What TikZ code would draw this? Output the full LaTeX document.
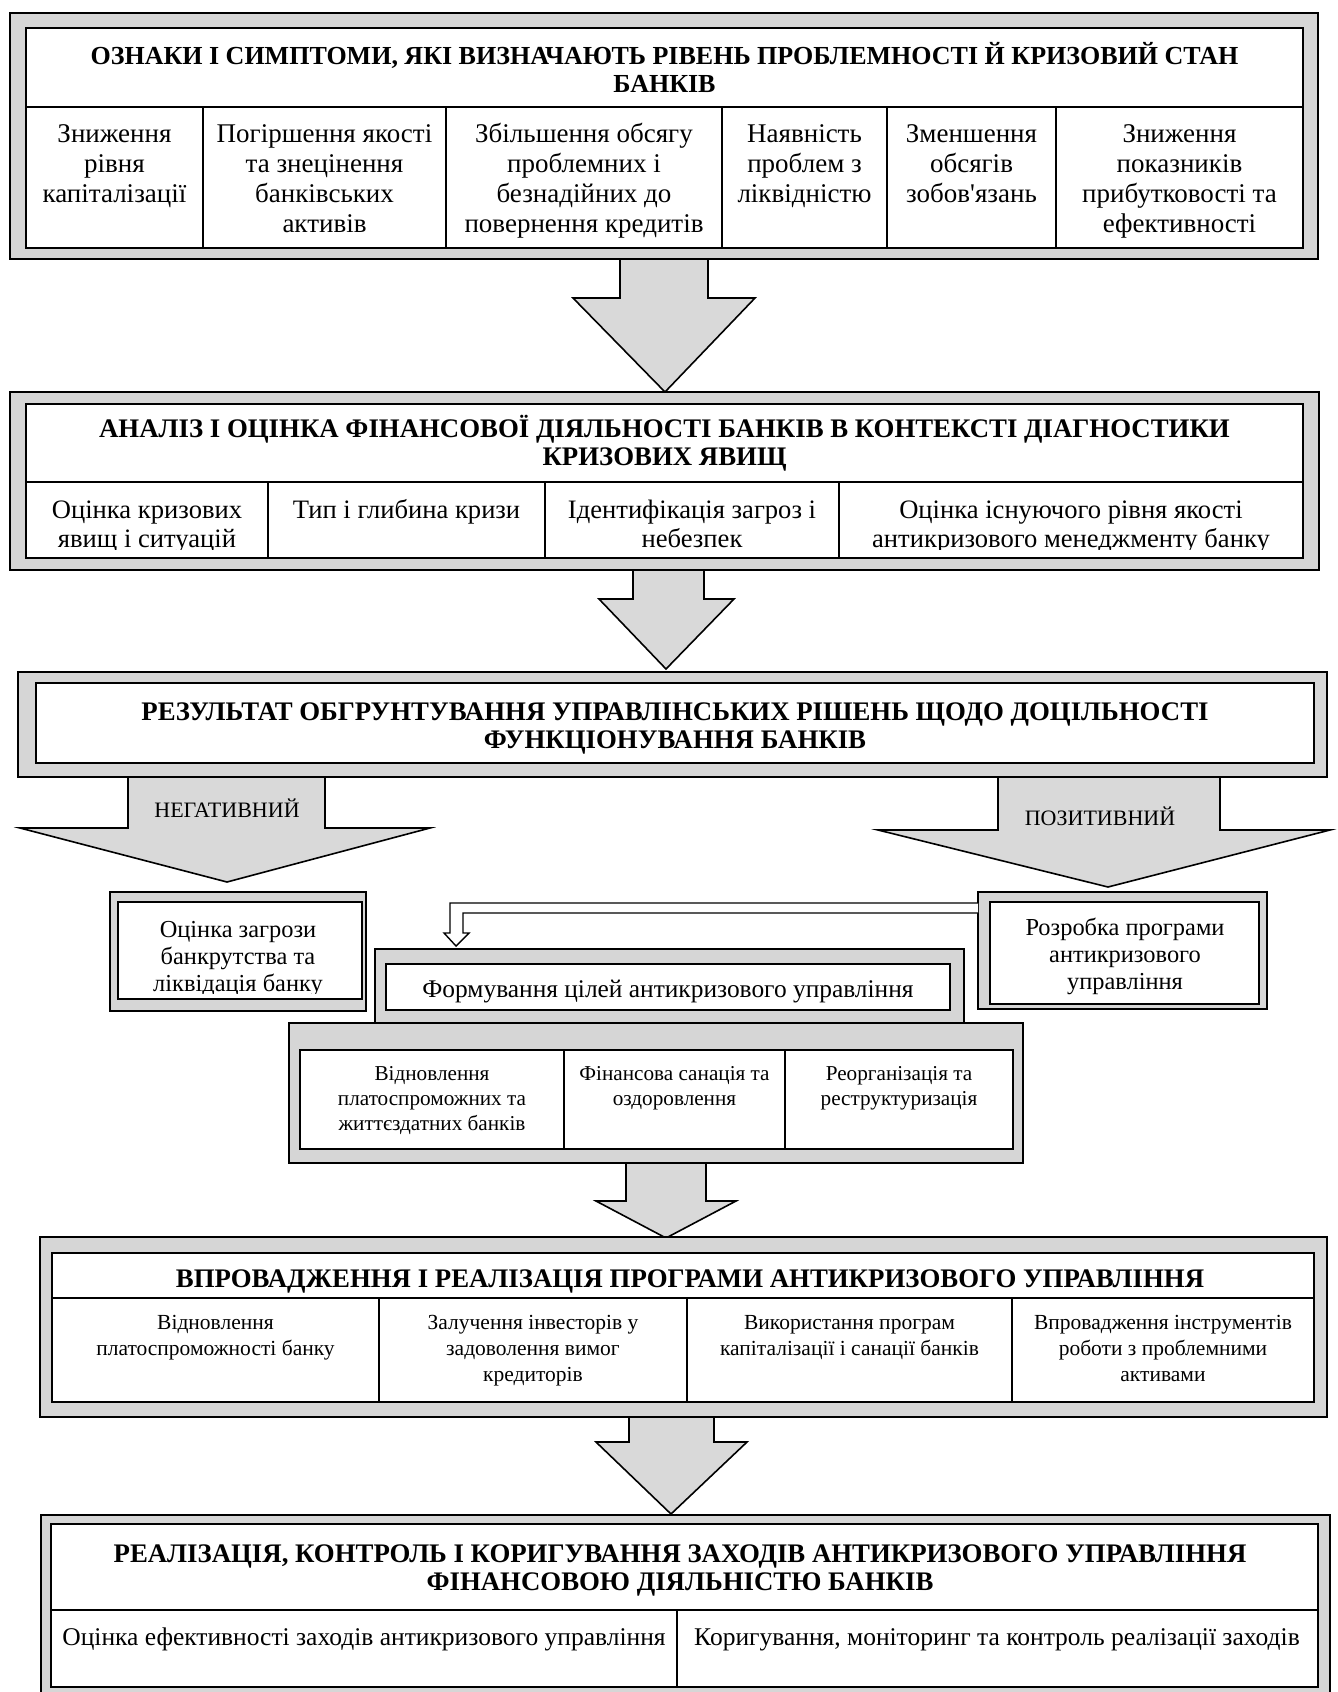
\documentclass[tikz,border=0pt]{standalone}
\usepackage{fontspec}
\setmainfont{Liberation Serif}[Ligatures=TeXOff]
\definecolor{framegray}{HTML}{D6D6D6}
\definecolor{arrowgray}{HTML}{D9D9D9}
\newcommand\gframe[8]{%
  \draw[outerframe] (#1,#2) rectangle (#3,#4);
  \draw[innerframe] (#5,#6) rectangle (#7,#8);}
\begin{document}
\begin{tikzpicture}[x=1pt,y=-1pt,
  outerframe/.style={draw=black, line width=2.4pt, fill=framegray},
  innerframe/.style={draw=black, line width=1.4pt, fill=white},
  divline/.style={draw=black, line width=1.1pt},
  arrowfill/.style={fill=arrowgray},
  arrowline/.style={draw=black, line width=1.6pt, line join=miter},
  hollowarrow/.style={draw=black, line width=1.4pt, fill=white, line join=miter},
  txtbase/.style={align=center, inner sep=0pt, anchor=base},
  hdrA/.style={txtbase, font=\fontsize{26}{28.5}\selectfont\bfseries},
  hdr/.style={txtbase, font=\fontsize{26.8}{28.5}\selectfont\bfseries},
  bigtxt/.style={txtbase, font=\fontsize{27}{30}\selectfont},
  bigtxtb/.style={txtbase, font=\fontsize{26.6}{29}\selectfont},
  midtxt/.style={txtbase, font=\fontsize{24.4}{27}\selectfont},
  lbltxt/.style={txtbase, font=\fontsize{22}{24}\selectfont},
  smalltxt/.style={txtbase, font=\fontsize{21.2}{25}\selectfont},
  celltxt/.style={txtbase, font=\fontsize{21.5}{26}\selectfont},
  goaltxt/.style={txtbase, font=\fontsize{25.4}{28}\selectfont},
  lowtxt/.style={txtbase, font=\fontsize{25.5}{28}\selectfont},
]
\useasboundingbox[fill=white] (0,0) rectangle (1338,1692);

% ---------- block arrows (drawn first, boxes cover their ends)
\fill[arrowfill] (620,259) -- (620,298) -- (573,298) -- (665,392) -- (755,298) -- (708,298) -- (708,259) -- cycle;
\draw[arrowline] (620,259) -- (620,298) -- (573,298) -- (665,392) -- (755,298) -- (708,298) -- (708,259);

\fill[arrowfill] (633,570) -- (633,599) -- (599,599) -- (666,669) -- (734,599) -- (704,599) -- (704,570) -- cycle;
\draw[arrowline] (633,570) -- (633,599) -- (599,599) -- (666,669) -- (734,599) -- (704,599) -- (704,570);

\fill[arrowfill] (128,777) -- (128,828) -- (20,828) -- (227,882) -- (430,828) -- (325,828) -- (325,777) -- cycle;
\draw[arrowline] (128,777) -- (128,828) -- (20,828) -- (227,882) -- (430,828) -- (325,828) -- (325,777);

\fill[arrowfill] (998,777) -- (998,830) -- (878,830) -- (1108,887) -- (1330,830) -- (1220,830) -- (1220,777) -- cycle;
\draw[arrowline] (998,777) -- (998,830) -- (878,830) -- (1108,887) -- (1330,830) -- (1220,830) -- (1220,777);

\fill[arrowfill] (626,1163) -- (626,1201) -- (596,1201) -- (666,1238) -- (736,1201) -- (706,1201) -- (706,1163) -- cycle;
\draw[arrowline] (626,1163) -- (626,1201) -- (596,1201) -- (666,1238) -- (736,1201) -- (706,1201) -- (706,1163);

\fill[arrowfill] (629,1417) -- (629,1442) -- (596,1442) -- (671,1514) -- (747,1442) -- (714,1442) -- (714,1417) -- cycle;
\draw[arrowline] (629,1417) -- (629,1442) -- (596,1442) -- (671,1514) -- (747,1442) -- (714,1442) -- (714,1417);

% ---------- box 1
\gframe{10}{13}{1318}{259}{26}{28}{1303}{248}
\draw[divline] (26,107) -- (1303,107);
\foreach \x in {203,446,722,887,1056} \draw[divline] (\x,107) -- (\x,248);
\node[hdrA] (h1) at (664.5,92.5) {ОЗНАКИ І СИМПТОМИ, ЯКІ ВИЗНАЧАЮТЬ РІВЕНЬ ПРОБЛЕМНОСТІ Й КРИЗОВИЙ СТАН\\БАНКІВ};
\node[bigtxt] (c11) at (114.5,202.7) {Зниження\\рівня\\капіталізації};
\node[bigtxt] (c12) at (324.5,232.7) {Погіршення якості\\та знецінення\\банківських\\активів};
\node[bigtxt] (c13) at (584,232.7) {Збільшення обсягу\\проблемних і\\безнадійних до\\повернення кредитів};
\node[bigtxt] (c14) at (804.5,202.7) {Наявність\\проблем з\\ліквідністю};
\node[bigtxt] (c15) at (971.5,202.7) {Зменшення\\обсягів\\зобов'язань};
\node[bigtxt] (c16) at (1179.5,232.7) {Зниження\\показників\\прибутковості та\\ефективності};

% ---------- box 2
\gframe{10}{392}{1319}{570}{26}{404}{1303}{558}
\draw[divline] (26,482) -- (1303,482);
\foreach \x in {268,545,839} \draw[divline] (\x,482) -- (\x,558);
\node[hdr] (h2) at (664.5,465.5) {АНАЛІЗ І ОЦІНКА ФІНАНСОВОЇ ДІЯЛЬНОСТІ БАНКІВ В КОНТЕКСТІ ДІАГНОСТИКИ\\КРИЗОВИХ ЯВИЩ};
\begin{scope}
\clip (26,482) rectangle (1303,549.5);
\node[bigtxtb] (c21) at (147,547) {Оцінка кризових\\явищ і ситуацій};
\node[bigtxtb] (c22) at (406.5,518) {Тип і глибина кризи};
\node[bigtxtb] (c23) at (692,547) {Ідентифікація загроз і\\небезпек};
\node[bigtxtb] (c24) at (1071,547) {Оцінка існуючого рівня якості\\антикризового менеджменту банку};
\end{scope}

% ---------- box 3
\gframe{18}{672}{1327}{777}{36}{683}{1314}{763}
\node[hdr] (h3) at (675,748.5) {РЕЗУЛЬТАТ ОБГРУНТУВАННЯ УПРАВЛІНСЬКИХ РІШЕНЬ ЩОДО ДОЦІЛЬНОСТІ\\ФУНКЦІОНУВАННЯ БАНКІВ};

\node[lbltxt] (neg) at (227,817) {НЕГАТИВНИЙ};
\node[lbltxt] (pos) at (1100,825) {ПОЗИТИВНИЙ};

% ---------- left box
\gframe{110}{892}{366}{1011}{118}{902}{362}{999}
\begin{scope}
\clip (118,902) rectangle (362,993);
\node[midtxt] (bankr) at (238,991) {Оцінка загрози\\банкрутства та\\ліквідація банку};
\end{scope}

% ---------- right box
\gframe{978}{892}{1267}{1009}{990}{902}{1259}{1004}
\node[midtxt] (prog) at (1125,989) {Розробка програми\\антикризового\\управління};

% ---------- feedback arrow
\draw[hollowarrow] (978,903) -- (450,903) -- (450,933) -- (444,933) -- (456,946) -- (469,933) -- (463,933) -- (463,913) -- (978,913);

% ---------- lower box and goals box
\gframe{289}{1023}{1023}{1163}{300}{1050}{1013}{1149}
\foreach \x in {564,785} \draw[divline] (\x,1050) -- (\x,1149);
\gframe{375}{949}{964}{1023}{386}{964}{950}{1010}
\node[goaltxt] (goals) at (668,997) {Формування цілей антикризового управління};
\node[smalltxt] (c41) at (432,1130) {Відновлення\\платоспроможних та\\життєздатних банків};
\node[smalltxt] (c42) at (674.5,1105) {Фінансова санація та\\оздоровлення};
\node[smalltxt] (c43) at (899,1105) {Реорганізація та\\реструктуризація};

% ---------- box 5
\gframe{40}{1237}{1327}{1417}{52}{1253}{1314}{1402}
\draw[divline] (52,1298) -- (1314,1298);
\foreach \x in {379,687,1012} \draw[divline] (\x,1298) -- (\x,1402);
\node[hdr] (h5) at (690,1287) {ВПРОВАДЖЕННЯ І РЕАЛІЗАЦІЯ ПРОГРАМИ АНТИКРИЗОВОГО УПРАВЛІННЯ};
\node[celltxt] (c51) at (215.5,1355) {Відновлення\\платоспроможності банку};
\node[celltxt] (c52) at (533,1381) {Залучення інвесторів у\\задоволення вимог\\кредиторів};
\node[celltxt] (c53) at (849.5,1355) {Використання програм\\капіталізації і санації банків};
\node[celltxt] (c54) at (1163,1381) {Впровадження інструментів\\роботи з проблемними\\активами};

% ---------- box 6
\gframe{41}{1515}{1330}{1705}{51}{1524}{1318}{1687}
\draw[divline] (51,1610) -- (1318,1610);
\draw[divline] (677,1610) -- (677,1687);
\node[hdr] (h6) at (680,1590.5) {РЕАЛІЗАЦІЯ, КОНТРОЛЬ І КОРИГУВАННЯ ЗАХОДІВ АНТИКРИЗОВОГО УПРАВЛІННЯ\\ФІНАНСОВОЮ ДІЯЛЬНІСТЮ БАНКІВ};
\node[lowtxt] (c61) at (364,1645) {Оцінка ефективності заходів антикризового управління};
\node[lowtxt] (c62) at (997,1645) {Коригування, моніторинг та контроль реалізації заходів};
\end{tikzpicture}
\end{document}
